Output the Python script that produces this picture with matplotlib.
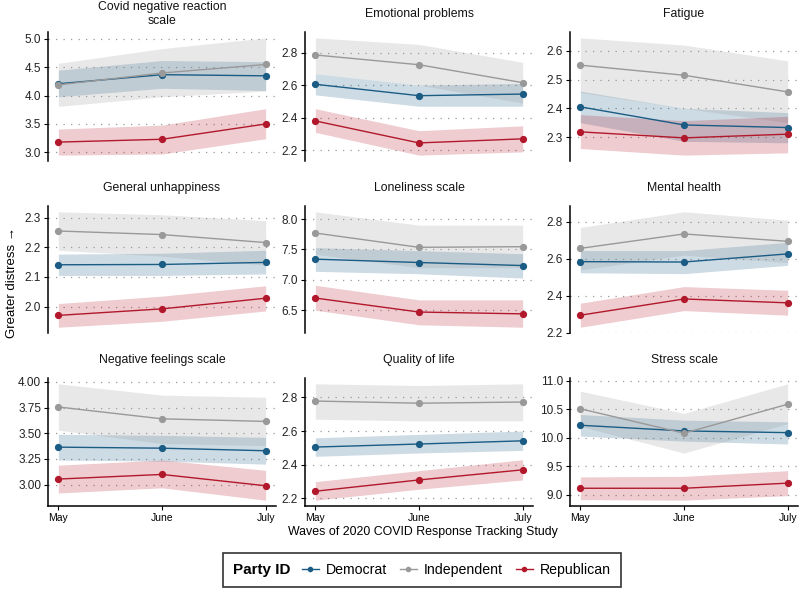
import matplotlib
matplotlib.use("Agg")
import matplotlib.pyplot as plt
from matplotlib.lines import Line2D
from matplotlib.offsetbox import HPacker

months = ["May", "June", "July"]
parties = ["Democrat", "Independent", "Republican"]
titles = ["Covid negative reaction\nscale", "Emotional problems", "Fatigue",
          "General unhappiness", "Loneliness scale", "Mental health",
          "Negative feelings scale", "Quality of life", "Stress scale"]

# means and 95% bands
dem_mean = [[4.21, 4.37, 4.35], [2.605, 2.535, 2.545], [2.405, 2.342, 2.333],
            [2.141, 2.142, 2.149], [7.34, 7.285, 7.235], [2.585, 2.583, 2.627],
            [3.365, 3.355, 3.33], [2.505, 2.523, 2.542], [10.22, 10.12, 10.09]]
dem_lo = [[3.98, 4.13, 4.09], [2.54, 2.47, 2.47], [2.35, 2.285, 2.28],
          [2.105, 2.105, 2.11], [7.14, 7.10, 7.03], [2.525, 2.52, 2.565],
          [3.24, 3.23, 3.20], [2.45, 2.47, 2.485], [10.03, 9.94, 9.89]]
dem_hi = [[4.45, 4.62, 4.60], [2.67, 2.60, 2.61], [2.46, 2.40, 2.385],
          [2.177, 2.18, 2.19], [7.53, 7.48, 7.43], [2.645, 2.645, 2.69],
          [3.49, 3.48, 3.46], [2.56, 2.58, 2.60], [10.41, 10.31, 10.28]]

ind_mean = [[4.19, 4.40, 4.55], [2.785, 2.725, 2.615], [2.55, 2.515, 2.457],
            [2.255, 2.243, 2.216], [7.77, 7.535, 7.545], [2.657, 2.735, 2.695],
            [3.755, 3.64, 3.615], [2.778, 2.765, 2.772], [10.51, 10.08, 10.59]]
ind_lo = [[3.81, 3.98, 4.08], [2.67, 2.60, 2.49], [2.455, 2.40, 2.35],
          [2.19, 2.17, 2.14], [7.42, 7.20, 7.20], [2.54, 2.62, 2.58],
          [3.53, 3.40, 3.38], [2.67, 2.66, 2.66], [10.20, 9.73, 10.25]]
ind_hi = [[4.57, 4.83, 5.02], [2.89, 2.85, 2.74], [2.645, 2.62, 2.565],
          [2.32, 2.31, 2.29], [8.12, 7.90, 7.90], [2.77, 2.855, 2.81],
          [3.98, 3.87, 3.85], [2.88, 2.87, 2.88], [10.82, 10.43, 10.95]]

rep_mean = [[3.18, 3.23, 3.50], [2.38, 2.245, 2.27], [2.318, 2.297, 2.31],
            [1.97, 1.992, 2.028], [6.70, 6.47, 6.44], [2.295, 2.383, 2.362],
            [3.055, 3.10, 2.99], [2.243, 2.31, 2.37], [9.11, 9.11, 9.20]]
rep_lo = [[2.95, 2.97, 3.24], [2.31, 2.17, 2.19], [2.26, 2.237, 2.245],
          [1.93, 1.95, 1.985], [6.50, 6.26, 6.22], [2.23, 2.32, 2.295],
          [2.92, 2.97, 2.85], [2.19, 2.255, 2.31], [8.91, 8.90, 8.98]]
rep_hi = [[3.41, 3.48, 3.77], [2.455, 2.32, 2.35], [2.378, 2.357, 2.372],
          [2.01, 2.035, 2.07], [6.91, 6.67, 6.67], [2.36, 2.45, 2.43],
          [3.19, 3.24, 3.14], [2.30, 2.365, 2.43], [9.31, 9.32, 9.42]]

y_ticks = [[3.0, 3.5, 4.0, 4.5, 5.0], [2.2, 2.4, 2.6, 2.8], [2.3, 2.4, 2.5, 2.6],
           [2.0, 2.1, 2.2, 2.3], [6.5, 7.0, 7.5, 8.0], [2.2, 2.4, 2.6, 2.8],
           [3.0, 3.25, 3.5, 3.75, 4.0], [2.2, 2.4, 2.6, 2.8], [9.0, 9.5, 10.0, 10.5, 11.0]]
y_decimals = [1, 1, 1, 1, 1, 1, 2, 1, 1]

colors = {"Democrat": "#1b5c85", "Independent": "#999999", "Republican": "#b2182b"}

plt.rcParams["font.family"] = ["Liberation Sans", "DejaVu Sans"]

fig = plt.figure(figsize=(8, 5.9), dpi=100)
W, H = 800, 590
col_left = [48, 305, 570]
col_w = 228
row_top = [32, 206, 378]
row_h = [129, 127, 128]

x = [0, 1, 2]
for i, title in enumerate(titles):
    r, c = divmod(i, 3)
    ax = fig.add_axes([col_left[c] / W, 1 - (row_top[r] + row_h[r]) / H,
                       col_w / W, row_h[r] / H])
    series = [(dem_mean[i], dem_lo[i], dem_hi[i]),
              (ind_mean[i], ind_lo[i], ind_hi[i]),
              (rep_mean[i], rep_lo[i], rep_hi[i])]
    for p, (m, lo, hi) in zip(parties, series):
        ax.fill_between(x, lo, hi, color=colors[p], alpha=0.22, lw=0, zorder=1)
    for p, (m, lo, hi) in zip(parties, series):
        ax.plot(x, m, color=colors[p], lw=1.0, marker="o", ms=4.2, zorder=3)

    ax.set_xlim(-0.1, 2.1)
    ax.margins(y=0.05)
    ax.set_yticks(y_ticks[i])
    ax.set_yticklabels([f"{t:.{y_decimals[i]}f}" for t in y_ticks[i]])
    ax.yaxis.grid(True, ls=(0, (1, 5)), color="#9a9a9a", lw=0.9)
    ax.set_axisbelow(True)
    for s in ["top", "right"]:
        ax.spines[s].set_visible(False)
    ax.spines["left"].set_linewidth(1.1)
    ax.tick_params(axis="y", labelsize=8.5, length=3, width=0.8, pad=2,
                   labelcolor="#222222")
    if r == 2:
        ax.set_xticks(x)
        ax.set_xticklabels(months)
        ax.spines["bottom"].set_linewidth(1.1)
        ax.tick_params(axis="x", labelsize=7.5, length=3, width=0.8, pad=2)
    else:
        ax.spines["bottom"].set_visible(False)
        ax.set_xticks([])
    # strip title, centred 18 px above the panel
    fig.text((col_left[c] + col_w / 2) / W, 1 - (row_top[r] - 18) / H, title,
             ha="center", va="center", fontsize=8.8, color="#111111",
             linespacing=1.15)

fig.text(12 / W, 1 - 283 / H, "Greater distress \u2192", rotation=90,
         ha="center", va="center", fontsize=9.5)
fig.text(423 / W, 1 - 532 / H, "Waves of 2020 COVID Response Tracking Study",
         ha="center", va="center", fontsize=8.9)

handles = [Line2D([0], [0], color=colors[p], lw=1.0, marker="o", ms=3)
           for p in parties]
leg = fig.legend(handles, parties, title="Party ID", loc="center",
                 bbox_to_anchor=(422 / W, 1 - 570 / H), ncol=3, frameon=True,
                 fontsize=10.2, handlelength=1.2, handletextpad=0.5,
                 columnspacing=0.9, borderpad=0.7, fancybox=False)
leg.get_frame().set_edgecolor("black")
leg.get_frame().set_linewidth(1.2)
leg.get_title().set_fontweight("bold")
leg.get_title().set_fontsize(11)
# title to the left of the entries
leg._legend_box._children = [HPacker(children=[leg._legend_title_box,
                                               leg._legend_handle_box],
                                     pad=0, sep=8, align="center")]

fig.savefig("out.png", dpi=100)
